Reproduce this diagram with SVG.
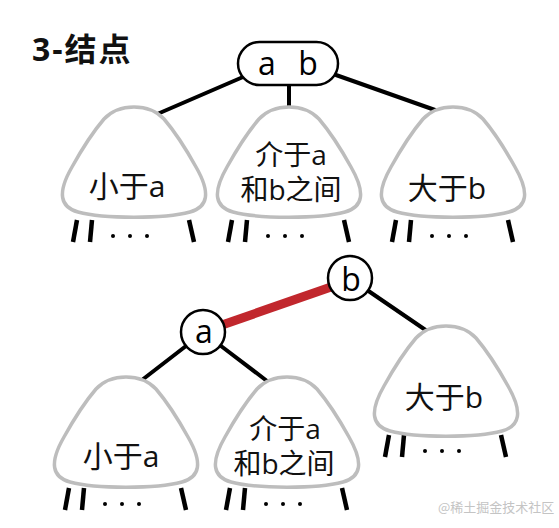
<svg xmlns="http://www.w3.org/2000/svg" width="559" height="528" viewBox="0 0 559 528">
<style>
.edge{stroke:#000;stroke-width:4;fill:none;stroke-linecap:round}
.red{stroke:#c1272d;stroke-width:9;fill:none}
.leg{stroke:#000;stroke-width:4.5;fill:none}
.tri{fill:#fff;stroke:#bdbdbd;stroke-width:3.5}
.key{fill:#fff;stroke:#000;stroke-width:2.5}
.t{font-family:"Open Sans","Noto Sans CJK SC",sans-serif;font-size:30px;fill:#111;text-anchor:middle}
.t2{font-family:"Open Sans","Noto Sans CJK SC",sans-serif;font-size:28px;fill:#111;text-anchor:middle}
.k{font-family:"Open Sans","Noto Sans CJK SC",sans-serif;font-size:32px;fill:#000;text-anchor:middle}
.title{font-family:"Open Sans","Noto Sans CJK SC",sans-serif;font-size:32px;font-weight:bold;fill:#111;letter-spacing:2px}
.wm{font-family:"Noto Sans CJK SC",sans-serif;font-size:13px;fill:#c4c4c4}
</style>
<defs>
<path id="tri" d="M -30,12 C -15,-4 15,-4 30,12 C 42,26 52,42 62,60 C 77,86 74,100 56,105 C 30,112 -30,112 -56,105 C -74,100 -77,86 -62,60 C -52,42 -42,26 -30,12 Z"/>
<g id="legs">
<line class="leg" x1="-57" y1="0" x2="-61" y2="22"/>
<line class="leg" x1="-42" y1="0" x2="-44" y2="22"/>
<line class="leg" x1="55" y1="0" x2="60" y2="22"/>
<circle cx="-21" cy="16" r="2"/>
<circle cx="-4" cy="16" r="2"/>
<circle cx="13" cy="16" r="2"/>
</g>
</defs>
<text class="title" x="32" y="61">3-结点</text>
<g id="connectors">
<line class="edge" x1="243" y1="77" x2="155" y2="115"/>
<line class="edge" x1="289" y1="85" x2="289" y2="108"/>
<line class="edge" x1="336" y1="75" x2="435" y2="110"/>
<line class="red" x1="222" y1="325" x2="331" y2="287"/>
<line class="edge" x1="367" y1="290" x2="427" y2="331"/>
<line class="edge" x1="186" y1="346" x2="142" y2="380"/>
<line class="edge" x1="221" y1="346" x2="267" y2="381"/>
</g>
<g id="node-ab">
<rect class="key" x="238" y="42" width="100" height="43" rx="21.5"/>
<text class="k" y="75"><tspan x="267">a</tspan><tspan x="308">b</tspan></text>
</g>
<g id="top-less-a">
<use href="#legs" x="134" y="220"/>
<use href="#tri" class="tri" x="134" y="107"/>
<text class="t" x="127" y="197">小于a</text>
</g>
<g id="top-between">
<use href="#legs" x="289" y="220"/>
<use href="#tri" class="tri" x="289" y="107"/>
<text class="t2" x="291" y="165">介于a</text>
<text class="t2" x="291" y="200">和b之间</text>
</g>
<g id="top-greater-b">
<use href="#legs" x="453" y="220"/>
<use href="#tri" class="tri" x="453" y="107"/>
<text class="t" x="447" y="199">大于b</text>
</g>
<g id="node-b">
<circle class="key" cx="350" cy="278" r="22"/>
<text class="k" x="351" y="291">b</text>
</g>
<g id="node-a">
<circle class="key" cx="203" cy="332" r="22"/>
<text class="k" x="204" y="343">a</text>
</g>
<g id="bottom-less-a">
<use href="#legs" x="126" y="488"/>
<use href="#tri" class="tri" x="126" y="377"/>
<text class="t" x="121" y="467">小于a</text>
</g>
<g id="bottom-between">
<use href="#legs" x="287" y="488"/>
<use href="#tri" class="tri" x="287" y="377"/>
<text class="t2" x="285" y="439">介于a</text>
<text class="t2" x="284" y="474">和b之间</text>
</g>
<g id="bottom-greater-b">
<use href="#legs" x="446" y="435"/>
<use href="#tri" class="tri" x="446" y="326"/>
<text class="t" x="444" y="408">大于b</text>
</g>
<text class="wm" x="438" y="512">@稀土掘金技术社区</text>
</svg>
